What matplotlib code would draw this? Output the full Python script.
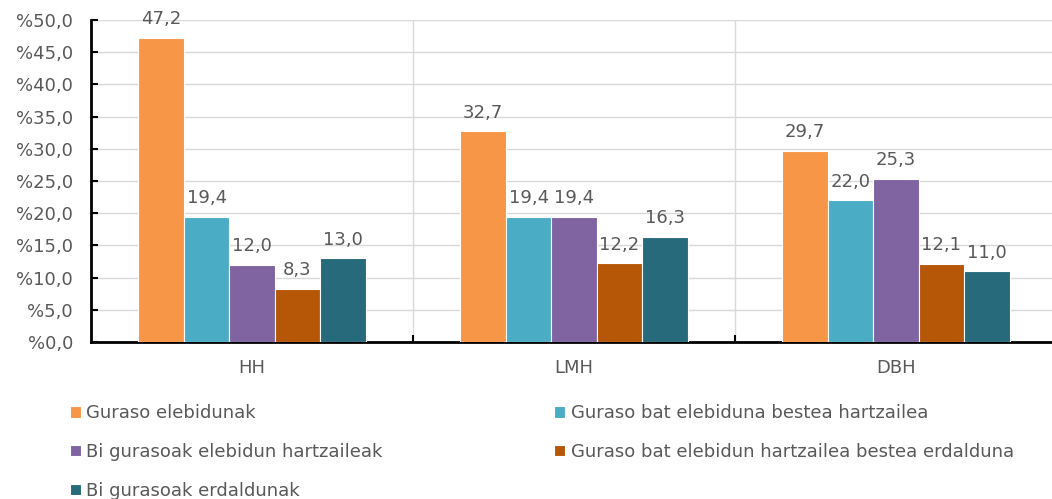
import matplotlib.pyplot as plt
import numpy as np

# Datos
categorias = ['HH', 'LMH', 'DBH']
series = ['Guraso elebidunak',
          'Guraso bat elebiduna bestea hartzailea',
          'Bi gurasoak elebidun hartzaileak',
          'Guraso bat elebidun hartzailea bestea erdalduna',
          'Bi gurasoak erdaldunak']
valores = [
    [47.2, 32.7, 29.7],
    [19.4, 19.4, 22.0],
    [12.0, 19.4, 25.3],
    [8.3, 12.2, 12.1],
    [13.0, 16.3, 11.0],
]
colores = ['#F79646', '#4BACC6', '#8064A2', '#B65708', '#276A7C']

gris = '#595959'
plt.rcParams['font.family'] = 'DejaVu Sans'
plt.rcParams['font.size'] = 13

fig = plt.figure(figsize=(10.52, 4.99), dpi=100)
ax = fig.add_axes([91 / 1052, 1 - 342 / 499, 966 / 1052, 322 / 499])

x = np.arange(len(categorias))
ancho = 0.141
handles = []
for i, (nombre, vals) in enumerate(zip(series, valores)):
    pos = x + (i - 2) * ancho
    b = ax.bar(pos, vals, ancho, color=colores[i], edgecolor='white', linewidth=0.8,
               label=nombre, zorder=3)
    handles.append(b)
    for p, v in zip(pos, vals):
        ax.text(p, v + 1.5, f'{v:.1f}'.replace('.', ','), ha='center', va='bottom',
                color=gris, fontsize=13)

ax.set_xlim(-0.5, 2.5)
ax.set_ylim(0, 50)
ax.set_yticks(np.arange(0, 51, 5))
ax.set_yticklabels([f'%{v:.1f}'.replace('.', ',') for v in np.arange(0, 51, 5)])
ax.set_xticks(x)
ax.set_xticklabels(categorias)
ax.set_xticks([0.5, 1.5], minor=True)

ax.grid(axis='y', color='#D9D9D9', linewidth=1, zorder=0)
ax.grid(axis='x', which='minor', color='#D9D9D9', linewidth=1, zorder=0)
ax.tick_params(axis='y', direction='in', length=5, width=1.5, color='black',
               labelcolor=gris, pad=13)
ax.tick_params(axis='x', which='major', length=0, labelcolor=gris, pad=12)
ax.tick_params(axis='x', which='minor', direction='in', length=5, width=1.5, color='black')
for s in ['top', 'right']:
    ax.spines[s].set_visible(False)
ax.spines['left'].set_linewidth(2)
ax.spines['bottom'].set_linewidth(2)

orden = [0, 2, 4, 1, 3]
leg = fig.legend([handles[i] for i in orden], [series[i] for i in orden],
                 ncol=2, loc='upper left', bbox_to_anchor=(54 / 1052, 1 - 388 / 499),
                 frameon=False, handlelength=0.6, handleheight=0.6, handletextpad=0.3,
                 columnspacing=9.5, labelspacing=1.15, fontsize=13)
for t in leg.get_texts():
    t.set_color(gris)

fig.savefig('out.png', dpi=100)
